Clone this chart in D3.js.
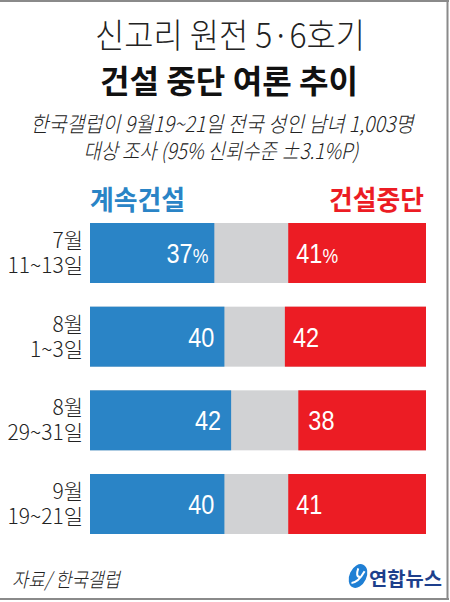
<!DOCTYPE html>
<html>
<head>
<meta charset="utf-8">
<script src="https://cdn.jsdelivr.net/npm/d3@7"></script>
<style>
  body { margin: 0; background: #fff; }
  svg { display: block; }
  text { font-family: "Noto Sans CJK KR", "Noto Sans", sans-serif; }
  .num { font-family: "Liberation Sans", sans-serif; }
</style>
</head>
<body>
<svg width="450" height="602"></svg>
<script>
// data
const months = ["7월", "8월", "8월", "9월"];
const days = ["11~13일", "1~3일", "29~31일", "19~21일"];
const keep_building = [37, 40, 42, 40];
const stop_building = [41, 42, 38, 41];
const series_names = ["계속건설", "건설중단"];

const blue = "#2a84c6";
const red = "#ec1c24";
const grey = "#d1d2d4";

const svg = d3.select("svg");

// frame
svg.append("rect").attr("x", 0).attr("y", 0).attr("width", 450).attr("height", 602).attr("fill", "#fff");
svg.append("line").attr("x1", 0).attr("x2", 449).attr("y1", 1).attr("y2", 1).attr("stroke", "#8a8a8a").attr("stroke-width", 2);
svg.append("line").attr("x1", 447.5).attr("x2", 447.5).attr("y1", 0).attr("y2", 600).attr("stroke", "#8a8a8a").attr("stroke-width", 2);
svg.append("line").attr("x1", 0).attr("x2", 449).attr("y1", 599).attr("y2", 599).attr("stroke", "#8a8a8a").attr("stroke-width", 2);

// titles
svg.append("text").attr("x", 230).attr("y", 48).attr("text-anchor", "middle")
	.attr("font-size", 34).attr("font-weight", 300).attr("fill", "#222")
	.attr("textLength", 270).attr("lengthAdjust", "spacingAndGlyphs")
	.text("신고리 원전 5·6호기");
svg.append("text").attr("x", 229).attr("y", 93).attr("text-anchor", "middle")
	.attr("font-size", 32).attr("font-weight", 700).attr("fill", "#111")
	.attr("textLength", 258).attr("lengthAdjust", "spacingAndGlyphs")
	.text("건설 중단 여론 추이");
svg.append("text").attr("x", 222).attr("y", 132).attr("text-anchor", "middle")
	.attr("font-size", 20).attr("font-weight", 300).attr("font-style", "italic").attr("fill", "#222")
	.attr("transform", "translate(222,132) scale(1,1.08) translate(-222,-132)")
	.attr("textLength", 383).attr("lengthAdjust", "spacingAndGlyphs")
	.text("한국갤럽이 9월19~21일 전국 성인 남녀 1,003명");
svg.append("text").attr("x", 221).attr("y", 159).attr("text-anchor", "middle")
	.attr("font-size", 20).attr("font-weight", 300).attr("font-style", "italic").attr("fill", "#222")
	.attr("transform", "translate(221,159) scale(1,1.08) translate(-221,-159)")
	.attr("textLength", 275).attr("lengthAdjust", "spacingAndGlyphs")
	.text("대상 조사 (95% 신뢰수준 ±3.1%P)");

// scales
const x = d3.scaleLinear().domain([0, 100]).range([90, 426]);
const y = d3.scaleBand().domain(d3.range(months.length)).range([223, 534]).paddingInner(0.283).paddingOuter(0);

// legend
svg.append("text").attr("x", x(0)).attr("y", 210).attr("text-anchor", "start")
	.attr("font-size", 27).attr("font-weight", 700).attr("fill", blue)
	.attr("textLength", 95).attr("lengthAdjust", "spacingAndGlyphs")
	.text(series_names[0]);
svg.append("text").attr("x", x(100) - 2).attr("y", 210).attr("text-anchor", "end")
	.attr("font-size", 27).attr("font-weight", 700).attr("fill", red)
	.attr("textLength", 95).attr("lengthAdjust", "spacingAndGlyphs")
	.text(series_names[1]);

const rows = svg.append("g").selectAll("g").data(months).join("g")
	.attr("transform", (d, i) => "translate(0," + y(i) + ")");

// grey background = the undecided part
rows.append("rect").attr("x", x(0)).attr("width", x(100) - x(0))
	.attr("height", y.bandwidth()).attr("fill", grey);
rows.append("rect").attr("x", x(0)).attr("width", (d, i) => x(keep_building[i]) - x(0))
	.attr("height", y.bandwidth()).attr("fill", blue);
rows.append("rect").attr("x", (d, i) => x(100 - stop_building[i]))
	.attr("width", (d, i) => x(100) - x(100 - stop_building[i]))
	.attr("height", y.bandwidth()).attr("fill", red);

// value labels, squeezed horizontally like the condensed original
const base = y.bandwidth() / 2 + 10;
const squeeze = 0.84;
function value_label(t, v, i) {
	t.append("tspan").text(v);
	if (i == 0) t.append("tspan").attr("font-size", 21).text("%");
}
rows.append("text").attr("class", "num")
	.attr("transform", (d, i) => "translate(" + (x(keep_building[i]) - (i == 0 ? 6 : 10)) + "," + base + ") scale(" + squeeze + ",1)")
	.attr("text-anchor", "end").attr("fill", "#fff").attr("font-size", 28)
	.each(function (d, i) { value_label(d3.select(this), keep_building[i], i); });
rows.append("text").attr("class", "num")
	.attr("transform", (d, i) => "translate(" + (x(100 - stop_building[i]) + (i == 2 ? 10 : 8)) + "," + base + ") scale(" + squeeze + ",1)")
	.attr("text-anchor", "start").attr("fill", "#fff").attr("font-size", 28)
	.each(function (d, i) { value_label(d3.select(this), stop_building[i], i); });

// category labels
rows.append("text").attr("text-anchor", "end")
	.attr("font-size", 21).attr("font-weight", 300).attr("fill", "#222")
	.each(function (d, i) {
		const t = d3.select(this);
		t.append("tspan").attr("x", 83).attr("y", 25).text(d);
		t.append("tspan").attr("x", 83).attr("y", 50).text(days[i]);
	});

// source
svg.append("text").attr("x", 12).attr("y", 587)
	.attr("font-size", 20).attr("font-weight", 300).attr("font-style", "italic").attr("fill", "#222")
	.attr("textLength", 108).attr("lengthAdjust", "spacingAndGlyphs")
	.text("자료/ 한국갤럽");

// logo
const logo = svg.append("g").attr("transform", "translate(358,576) rotate(25)");
logo.append("ellipse").attr("rx", 8.5).attr("ry", 12.5).attr("fill", "#1f7fd4");
logo.append("path").attr("d", "M-3,-7 Q-2,2 2,0 M4,-7 Q3,6 -3,9")
	.attr("fill", "none").attr("stroke", "#fff").attr("stroke-width", 2);
svg.append("text").attr("x", 442).attr("y", 586).attr("text-anchor", "end")
	.attr("font-size", 19).attr("font-weight", 700).attr("fill", "#1d3f8c")
	.attr("textLength", 73).attr("lengthAdjust", "spacingAndGlyphs")
	.text("연합뉴스");
</script>
</body>
</html>
